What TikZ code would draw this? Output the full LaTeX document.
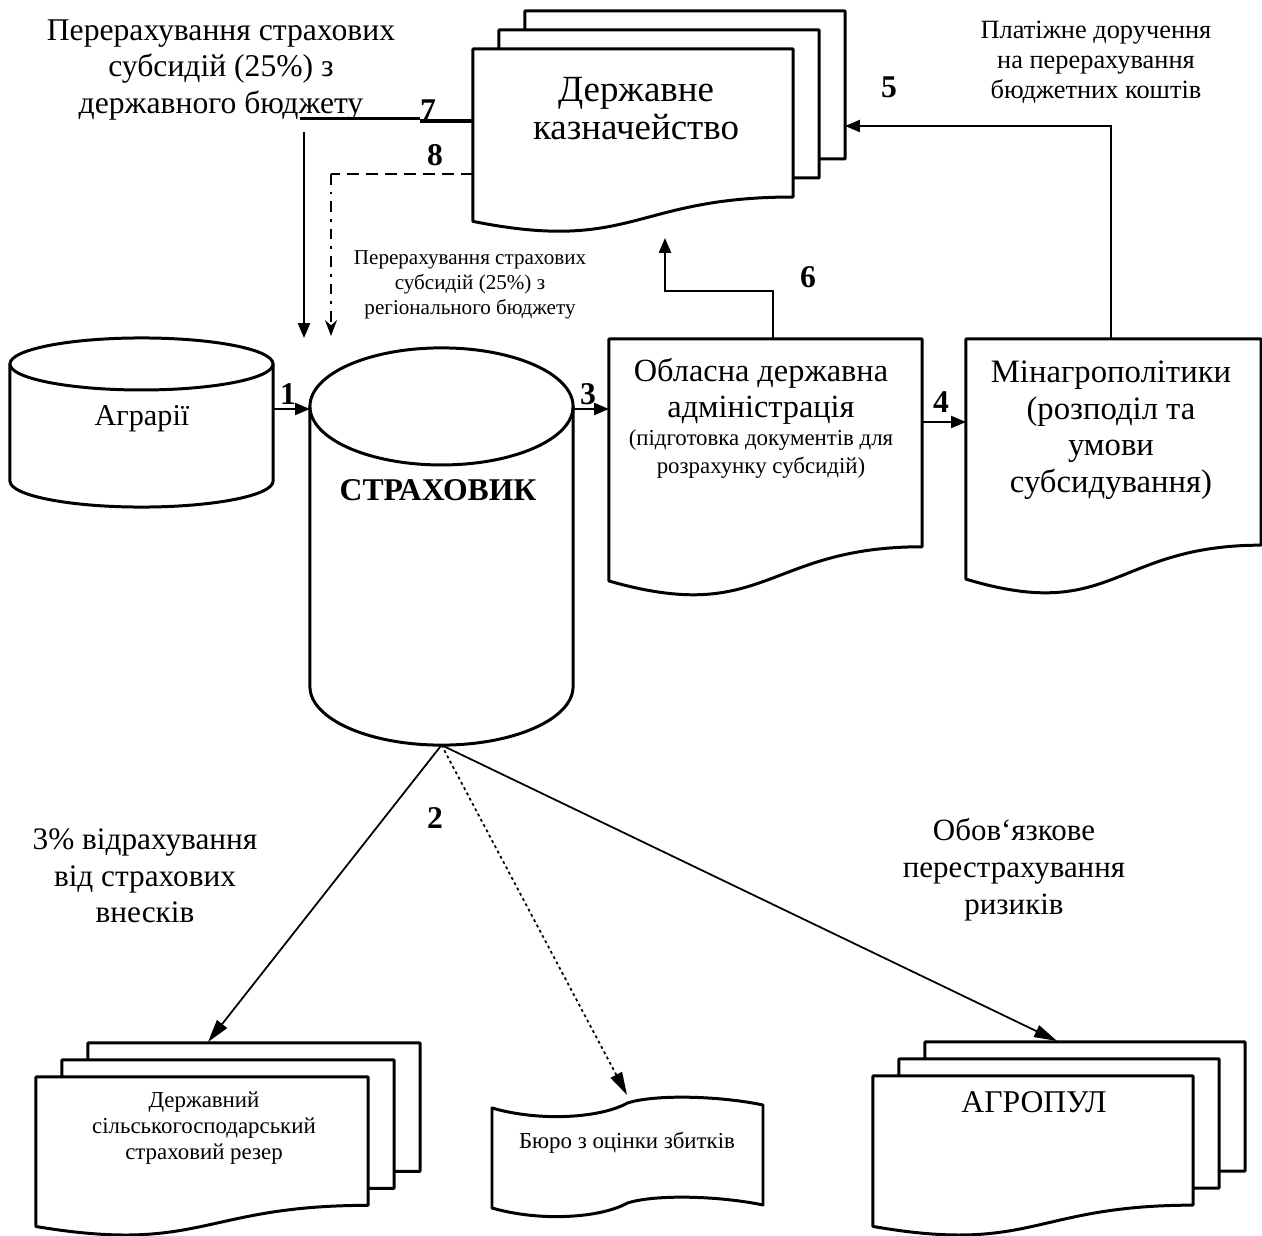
\documentclass[tikz,border=0pt]{standalone}
\usepackage{fontspec}
\setmainfont{Liberation Serif}
\usetikzlibrary{calc,arrows.meta}
\newcommand\fs[2]{\fontsize{#1}{#2}\selectfont}
% document shape (front page) drawn from a node's anchors
\newcommand\docshape[1]{%
  \draw[shapeline] (#1.north west) -- (#1.north east) -- ($(#1.north east)!0.802!(#1.south east)$)
    .. controls ($(#1.north)!0.802!(#1.south)$) and ($(#1.north)!1.1075!(#1.south)$) .. ($(#1.north west)!0.934!(#1.south west)$) -- cycle;}
% multi-document: two pages behind the front page
\newcommand\multidoc[3]{%
  \coordinate (#1-r) at ($(#1.north east)!0.802!(#1.south east)$);
  \coordinate (#1-bne) at ([xshift=2*#2, yshift=2*#3]#1.north east);
  \draw[shapeline] ([xshift=#2]#1.north west) -- ([xshift=#2, yshift=#3]#1.north west)
    -- ([xshift=#2, yshift=#3]#1.north east) -- ([xshift=#2, yshift=#3]#1-r) -- ([yshift=#3]#1-r);
  \draw[shapeline] ([xshift=2*#2, yshift=#3]#1.north west) -- ([xshift=2*#2, yshift=2*#3]#1.north west)
    -- (#1-bne) -- ([xshift=2*#2, yshift=2*#3]#1-r) -- ([xshift=#2, yshift=2*#3]#1-r);
  \docshape{#1}}
% can (cylinder)
\newcommand\candraw[2]{%
  \draw[shapeline] ([yshift=-#2]#1.north west) -- ([yshift=#2]#1.south west)
    arc[start angle=180, end angle=360, x radius=1.315cm, y radius=#2]
    -- ([yshift=-#2]#1.north east);
  \draw[shapeline] ([yshift=-#2]#1.north) ellipse [x radius=1.315cm, y radius=#2];}
\begin{document}
\begin{tikzpicture}[x=0.01cm,y=-0.01cm,
  shapeline/.style={line width=0.85pt, line join=round},
  box/.style={draw=none, inner sep=0pt, outer sep=0pt},
  conn/.style={line width=0.6pt, -{Triangle[length=4.2pt,width=3.4pt]}},
  lowconn/.style={line width=0.5pt, -{Triangle[length=6.5pt,width=3.6pt]}},
  txt/.style={align=center, inner sep=0pt},
  num/.style={inner sep=0pt, font=\fs{9}{10}\bfseries},
]
\useasboundingbox (0,0) rectangle (1262,1236);

% ---------- shapes ----------
\node[box, minimum width=3.20cm, minimum height=1.845cm] (kazn) at (633,141.25) {};
\multidoc{kazn}{0.26cm}{0.19cm}
\node[box, minimum width=3.13cm, minimum height=2.59cm] (obl) at (765.5,468.5) {};
\docshape{obl}
\node[box, minimum width=2.95cm, minimum height=2.57cm] (min) at (1113.5,467.5) {};
\docshape{min}
\node[box, minimum width=2.63cm, minimum height=1.69cm] (agr) at (141.5,422.5) {};
\candraw{agr}{0.26cm}
\node[box, minimum width=2.63cm, minimum height=3.97cm] (stra) at (441.5,546.5) {};
\candraw{stra}{0.585cm}
\node[box, minimum width=3.32cm, minimum height=1.60cm] (dres) at (202,1157) {};
\multidoc{dres}{0.26cm}{0.17cm}
\node[box, minimum width=3.20cm, minimum height=1.61cm] (agp) at (1033,1156.5) {};
\multidoc{agp}{0.26cm}{0.17cm}
\node[box, minimum width=2.71cm, minimum height=1.02cm] (bur) at (627.5,1156) {};
\begin{scope}[shift={(bur.center)}]
  \draw[shapeline] (-135.5,-48) .. controls (-87,-34) and (-27,-38) .. (0,-53)
    .. controls (28,-62) and (93,-60) .. (135.5,-51) -- (135.5,49)
    .. controls (93,40) and (28,38) .. (0,47)
    .. controls (-27,62) and (-87,66) .. (-135.5,52) -- cycle;
\end{scope}

% ---------- texts ----------
\node[txt, font=\fs{10.5}{10.8}] (kaznt) at (636,109) {Державне\\казначейство};
\node[txt, font=\fs{9}{10.5}] (tlt) at (221,70) {Перерахування страхових\\субсидій (25\%) з\\державного бюджету};
\node[txt, font=\fs{7.5}{8.5}] (payt) at (1096,62) {Платіжне доручення\\на перерахування\\бюджетних коштів};
\node[txt, font=\fs{6}{7.1}] (regt) at (470,285) {Перерахування страхових\\субсидій (25\%) з\\регіонального бюджету};
\node[txt, font=\fs{8.6}{10}] (agrt) at (142,419) {Аграрії};
\node[txt, font=\fs{9}{10}\bfseries] (strat) at (438,490) {СТРАХОВИК};
\node[txt, font=\fs{9.2}{10.2}] (oblt1) at (761,391) {Обласна державна\\адміністрація};
\node[txt, font=\fs{6.5}{7.7}] (oblt2) at (761,454) {(підготовка документів для\\розрахунку субсидій)};
\node[txt, font=\fs{9.3}{10.4}] (mint) at (1111,430) {Мінагрополітики\\(розподіл та\\умови\\субсидування)};
\node[txt, font=\fs{8.9}{10.4}] (vidt) at (145,876) {3\% відрахування\\від страхових\\внесків};
\node[txt, font=\fs{8.8}{10.5}] (obovt) at (1014,870) {Обов‘язкове\\перестрахування\\ризиків};
\node[txt, font=\fs{6.5}{7.5}] (drest) at (204,1128) {Державний\\сільськогосподарський\\страховий резер};
\node[txt, font=\fs{6.5}{7.5}] (burt) at (627,1143) {Бюро з оцінки збитків};
\node[txt, font=\fs{9}{10}] (agpt) at (1034,1102) {АГРОПУЛ};

% ---------- numbers ----------
\node[num] (n1) at (288,394) {1};
\node[num] (n2) at (435,818) {2};
\node[num] (n3) at (588,394) {3};
\node[num] (n4) at (941,402) {4};
\node[num] (n5) at (889,87) {5};
\node[num] (n6) at (808,277) {6};
\node[num] (n7) at (428,110) {7};
\node[num] (n8) at (435,155) {8};

% ---------- connectors ----------
\coordinate (y1) at (0,409);
\draw[conn] (agr.east |- y1) -- (stra.west |- y1);
\draw[conn] (stra.east |- y1) -- (obl.west |- y1);
\coordinate (y4) at (0,422);
\draw[conn] (obl.east |- y4) -- (min.west |- y4);
\coordinate (k5) at (1111,126);
\draw[conn] (min.north -| k5) |- (kazn-bne |- k5);
\coordinate (t6) at (665,238);
\coordinate (k6) at (773,291);
\draw[conn] (obl.north -| k6) |- (t6 |- k6) -- (t6);
% 7
\coordinate (s7) at (300,118.5);
\coordinate (m7) at (420,118.5);
\coordinate (m7b) at (420,121);
\draw[line width=0.6pt] (s7) -- (m7);
\draw[line width=1.3pt] (kazn.west |- m7b) -- (m7b);
\coordinate (a7) at (304,132);
\coordinate (b7) at (304,338);
\draw[conn] (a7) -- (b7);
% 8
\coordinate (c8) at (331,174);
\coordinate (d8) at (331,336);
\draw[line width=0.6pt, dash pattern=on 3.4pt off 2pt] (kazn.west |- c8) -- (c8);
\draw[line width=0.6pt, dash pattern=on 3pt off 2pt on 0.8pt off 2pt, -{Stealth[length=4.5pt,width=3.4pt]}] (c8) -- (d8);
% 2
\coordinate (t2a) at (208,1042);
\coordinate (t2b) at (627,1095);
\coordinate (t2c) at (1057,1041);
\draw[lowconn] (stra.south) -- (t2a);
\draw[lowconn, dash pattern=on 0.8pt off 0.9pt] (stra.south) -- (t2b);
\draw[lowconn] (stra.south) -- (t2c);
\end{tikzpicture}
\end{document}
